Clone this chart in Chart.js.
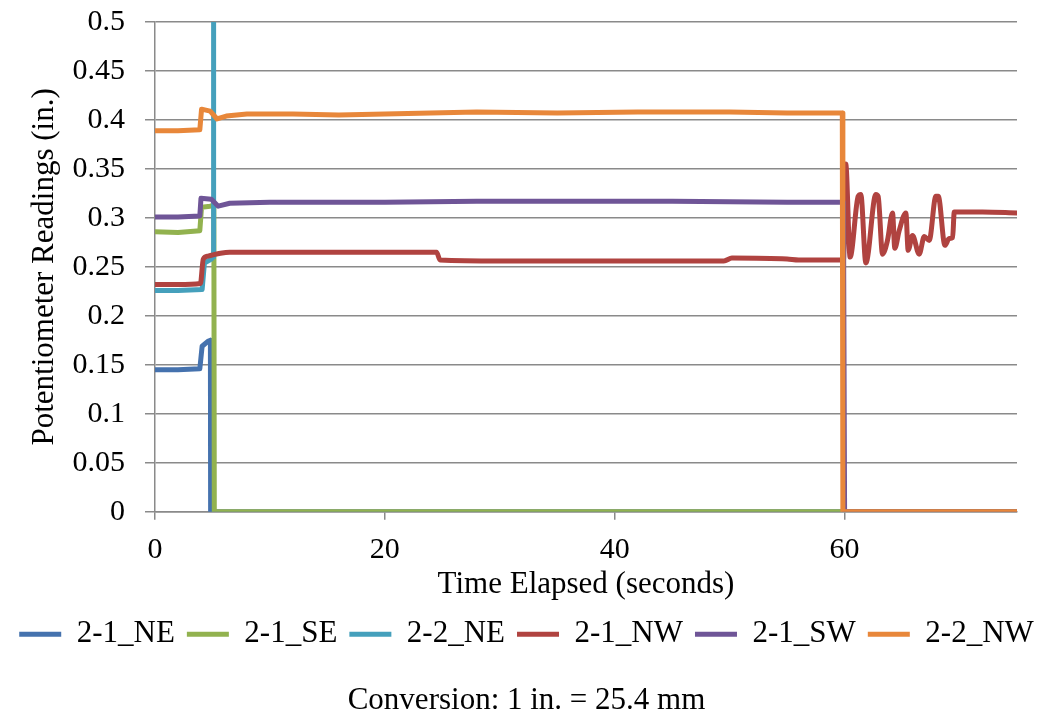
<!DOCTYPE html>
<html>
<head>
<meta charset="utf-8">
<title>Potentiometer Readings</title>
<script src="https://cdn.jsdelivr.net/npm/chart.js@4/dist/chart.umd.min.js"></script>
<style>
    body { margin: 0; background: #fff; }
    #wrap { width: 1053px; height: 719px; }
</style>
</head>
<body>
<div id="wrap"><canvas id="potChart"></canvas></div>
<script>
// series names in the order Excel lists them
const seriesNames = ["2-1_NE", "2-1_SE", "2-2_NE", "2-1_NW", "2-1_SW", "2-2_NW"];
const seriesColors = ["#4572AE", "#92B24F", "#45A0BC", "#B04340", "#6F5597", "#E8873A"];

// time (s) and reading (in.)
const neTime = [0, 2, 3.9, 4.1, 4.6, 4.82, 4.84, 75];
const neVal  = [0.145, 0.145, 0.146, 0.169, 0.174, 0.175, 0, 0];

const seTime = [0, 2, 3.9, 4.05, 4.8, 5.12, 5.16, 75];
const seVal  = [0.286, 0.285, 0.287, 0.311, 0.312, 0.313, 0, 0];

const ne2Time = [0, 2, 4.1, 4.3, 4.9, 5.05, 5.1];
const ne2Val  = [0.226, 0.226, 0.227, 0.254, 0.258, 0.26, 0.6];

const nwTime = [0, 2, 3.95, 4.2, 4.6, 5.7, 6.5, 12, 20, 24.5, 24.8, 30, 40, 49.5, 50.2, 55, 56, 59.9,
                60.1, 60.48, 61.18, 61.41, 61.85, 62.72, 62.92, 63.3, 63.73, 64.17, 64.37, 64.75, 65.33, 65.53,
                65.91, 66.49, 66.93, 67.36, 67.94, 68.15, 68.73, 69.1, 69.4, 69.54, 72, 75];
const nwVal  = [0.232, 0.232, 0.233, 0.258, 0.261, 0.264, 0.265, 0.265, 0.265, 0.265, 0.257, 0.256, 0.256, 0.256, 0.259, 0.258, 0.257, 0.257,
                0.355, 0.26, 0.322, 0.324, 0.254, 0.324, 0.322, 0.263, 0.277, 0.305, 0.269, 0.287, 0.305, 0.267,
                0.282, 0.263, 0.281, 0.277, 0.322, 0.322, 0.272, 0.279, 0.28, 0.306, 0.306, 0.305];

const swTime = [0, 2, 3.9, 4.0, 4.9, 5.5, 6.5, 10, 20, 28, 35, 45, 55, 59.9, 60.0, 75];
const swVal  = [0.301, 0.301, 0.302, 0.320, 0.319, 0.312, 0.315, 0.316, 0.316, 0.317, 0.317, 0.317, 0.316, 0.316, 0, 0];

const nw2Time = [0, 2, 3.9, 4.05, 4.8, 5.4, 6.2, 8, 12, 16, 20, 24, 28, 35, 42, 50, 55, 59.8, 59.85, 75];
const nw2Val  = [0.389, 0.389, 0.390, 0.411, 0.409, 0.401, 0.404, 0.406, 0.406, 0.405, 0.406, 0.407, 0.408, 0.407, 0.408, 0.408, 0.407, 0.407, 0, 0];

const xTicksStep = 20;
const yTicksStep = 0.05;

const serifFont = "'Liberation Serif', 'Times New Roman', serif";
const gridGray = "#8a8a8a";

function toPoints(times, values) {
    return times.map((t, i) => ({ x: t, y: values[i] }));
}

const allSeries = [
    toPoints(neTime, neVal),
    toPoints(seTime, seVal),
    toPoints(ne2Time, ne2Val),
    toPoints(nwTime, nwVal),
    toPoints(swTime, swVal),
    toPoints(nw2Time, nw2Val)
];

// Chart.js paints the first dataset on top, Excel paints the last one on top,
// so build the datasets backwards and flip the legend back
const datasets = seriesNames.map((name, i) => ({
    label: name,
    data: allSeries[i],
    borderColor: seriesColors[i],
    backgroundColor: seriesColors[i],
    borderWidth: 5,
    borderCapStyle: "round",
    borderJoinStyle: "round",
    pointRadius: 0,
    tension: 0,
    // the NW sensor swings after 60 s, smooth those peaks a bit
    cubicInterpolationMode: name === "2-1_NW" ? "monotone" : "default"
})).reverse();

new Chart(document.getElementById("potChart"), {
    type: "line",
    data: { datasets },
    options: {
        responsive: true,
        maintainAspectRatio: false,
        animation: false,
        layout: { padding: { top: 22, right: 0, left: 0, bottom: 0 } },
        plugins: {
            tooltip: { enabled: false },
            legend: {
                position: "bottom",
                reverse: true,
                labels: {
                    usePointStyle: true,
                    pointStyle: "line",
                    pointStyleWidth: 42,
                    padding: 12,
                    color: "#000",
                    font: { family: serifFont, size: 31 }
                }
            },
            title: {
                display: true,
                position: "bottom",
                text: "Conversion: 1 in. = 25.4 mm",
                color: "#000",
                font: { family: serifFont, size: 31, weight: "normal", lineHeight: 1.2 },
                padding: { top: 22, bottom: 0 }
            }
        },
        scales: {
            x: {
                type: "linear",
                min: 0,
                max: 75,
                afterFit: (scale) => { scale.height = 95; },
                ticks: {
                    stepSize: xTicksStep,
                    includeBounds: false,
                    maxRotation: 0,
                    padding: 12,
                    color: "#000",
                    font: { family: serifFont, size: 30 }
                },
                grid: { drawOnChartArea: false, drawTicks: true, tickLength: 8, color: gridGray, lineWidth: 1.5 },
                border: { display: true, color: gridGray, width: 1.5 },
                title: {
                    display: true,
                    text: "Time Elapsed (seconds)",
                    color: "#000",
                    font: { family: serifFont, size: 31, lineHeight: 1.2 },
                    padding: { top: 0, bottom: 3 }
                }
            },
            y: {
                min: 0,
                max: 0.5,
                afterFit: (scale) => {
                    scale.width = 155;
                    // the top label may overhang; let the layout padding decide the plot top
                    scale.paddingTop = 0;
                },
                ticks: {
                    stepSize: yTicksStep,
                    padding: 20,
                    color: "#000",
                    font: { family: serifFont, size: 30 },
                    callback: (v) => String(Number(v.toFixed(2)))
                },
                grid: { color: gridGray, lineWidth: 1.5, tickLength: 10 },
                border: { display: true, color: gridGray, width: 1.5 },
                title: {
                    display: true,
                    text: "Potentiometer Readings (in.)",
                    color: "#000",
                    font: { family: serifFont, size: 31, lineHeight: 1.2 },
                    padding: { top: 26, bottom: 0 }
                }
            },
            // empty axis on the right only reserves the gap after the plot
            yGap: {
                position: "right",
                display: true,
                afterFit: (scale) => {
                    scale.width = 36;
                    scale.paddingTop = 0;
                },
                ticks: { display: false },
                grid: { display: false },
                border: { display: false }
            }
        }
    }
});
</script>
</body>
</html>
